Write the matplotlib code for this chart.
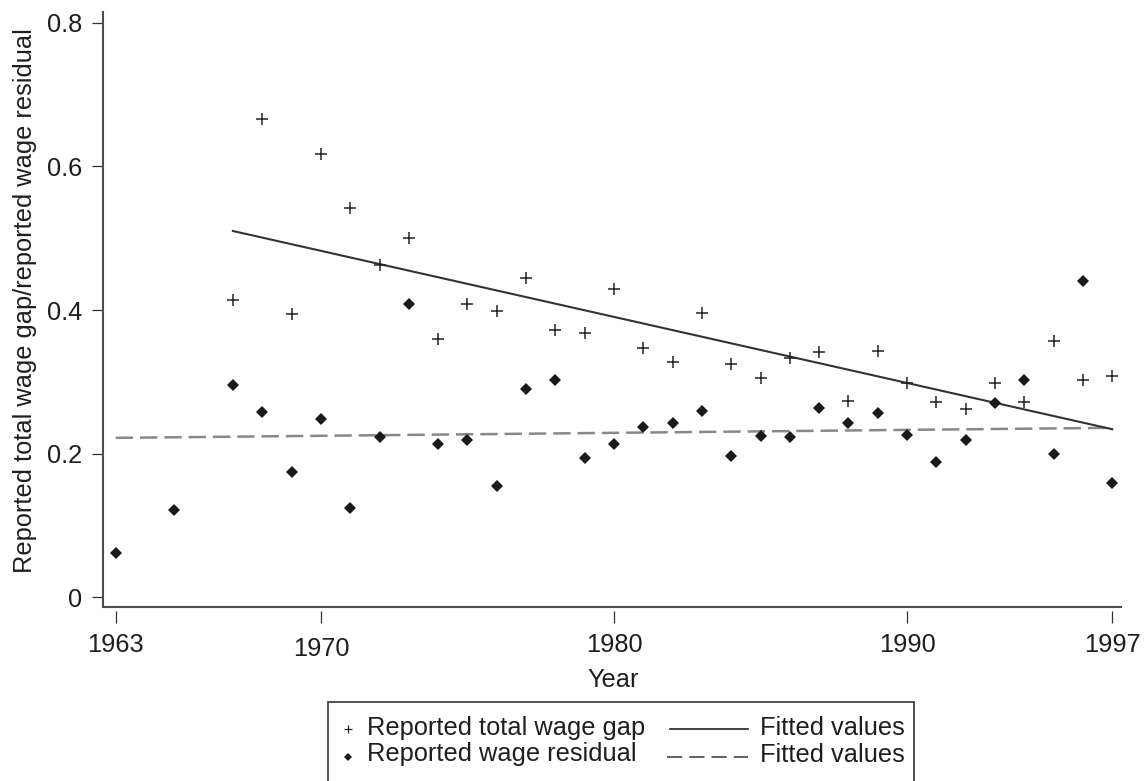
import numpy as np
import matplotlib
matplotlib.use('Agg')
import matplotlib.pyplot as plt
from matplotlib.lines import Line2D
from matplotlib.patches import Rectangle

plt.rcParams['font.family'] = ['Liberation Sans', 'DejaVu Sans']
plt.rcParams['lines.scale_dashes'] = False

# Data
gap_years = list(range(1967, 1998))
gap_values = [0.414, 0.666, 0.395, 0.617, 0.542, 0.462, 0.500, 0.359,
              0.409, 0.399, 0.445, 0.372, 0.368, 0.429, 0.347, 0.327,
              0.396, 0.325, 0.306, 0.333, 0.341, 0.274, 0.343, 0.298,
              0.272, 0.262, 0.299, 0.272, 0.357, 0.303, 0.308]

resid_years = [1963, 1965] + list(range(1967, 1998))
resid_values = [0.062, 0.122,
                0.296, 0.258, 0.174, 0.248, 0.124, 0.223, 0.409, 0.213,
                0.219, 0.155, 0.290, 0.302, 0.194, 0.214, 0.237, 0.243,
                0.259, 0.197, 0.225, 0.223, 0.263, 0.243, 0.257, 0.226,
                0.188, 0.219, 0.271, 0.302, 0.200, 0.440, 0.159]

# fitted values (end points of the two regression lines)
fit_gap_years = [1967, 1997]
fit_gap_values = [0.510, 0.234]
fit_resid_years = [1963, 1997]
fit_resid_values = [0.222, 0.236]

xticks = [1963, 1970, 1980, 1990, 1997]
yticks = [0, 0.2, 0.4, 0.6, 0.8]
ytick_labels = ['0', '0.2', '0.4', '0.6', '0.8']

W, H = 1147, 781
FS = 18.3
TXT = '#1e1e1e'
AXC = '#4d4d4d'


def fx(px):
    return px / W


def fy(py):
    return 1 - py / H


fig = plt.figure(figsize=(W / 100, H / 100), dpi=100)
ax = fig.add_axes([fx(103.3), fy(607.3), (1122.3 - 103.3) / W, (607.3 - 12) / H])

# fitted lines
ax.plot(fit_resid_years, fit_resid_values, color='#888888', lw=1.8,
        dashes=(12.5, 5), zorder=2)
ax.plot(fit_gap_years, fit_gap_values, color='#333333', lw=1.5, zorder=2)

# points
ax.plot(gap_years, gap_values, linestyle='none', marker='+', markersize=8.5,
        markeredgewidth=1.1, color='#222222', zorder=3)
ax.plot(resid_years, resid_values, linestyle='none', marker='D', markersize=6.4,
        color='#1a1a1a', markeredgewidth=0, zorder=3)

ax.set_xlim(1962.577, 1997.341)
ax.set_ylim(-0.0139, 0.8149)

ax.set_xticks(xticks)
ax.set_xticklabels([str(t) for t in xticks])
ax.set_yticks(yticks)
ax.set_yticklabels(ytick_labels)

for s in ['top', 'right']:
    ax.spines[s].set_visible(False)
ax.spines['left'].set_color(AXC)
ax.spines['left'].set_linewidth(1.5)
# x ticks hang detached below the axis line
ax.spines['bottom'].set_position(('outward', 2.4))
ax.spines['bottom'].set_visible(False)
ax.plot([0, 1], [0, 0], transform=ax.transAxes, color=AXC, lw=1.5,
        clip_on=False, solid_capstyle='butt')

ax.tick_params(axis='y', direction='out', length=8, width=0.9, color='#333333',
               pad=7, labelsize=FS, labelcolor=TXT)
ax.tick_params(axis='x', direction='out', length=8.6, width=0.9, color='#333333',
               pad=7.5, labelsize=FS, labelcolor=TXT)
# 1970 label sits a little lower in the original
for lab in ax.get_xticklabels():
    if lab.get_text() == '1970':
        lab.set_y(-0.006)

fig.text(fx(25), fy(301), 'Reported total wage gap/reported wage residual',
         rotation=90, ha='center', va='center', fontsize=FS, color=TXT)
fig.text(fx(613), fy(680), 'Year', ha='center', va='center', fontsize=FS, color=TXT)

# legend drawn by hand (box runs off the bottom edge)
fig.add_artist(Rectangle((fx(328.3), fy(820)), (914.3 - 328.3) / W, (820 - 701.7) / H,
                         transform=fig.transFigure, fill=False, edgecolor='#444444',
                         linewidth=1.3))
fig.add_artist(Line2D([fx(348)], [fy(729)], transform=fig.transFigure, marker='+',
                      markersize=5.5, markeredgewidth=0.9, color='#222222'))
fig.add_artist(Line2D([fx(348)], [fy(756.5)], transform=fig.transFigure, marker='D',
                      markersize=4.5, markeredgewidth=0, color='#1a1a1a'))
fig.text(fx(366.7), fy(735), 'Reported total wage gap', ha='left', va='baseline',
         fontsize=FS, color=TXT)
fig.text(fx(366.7), fy(761.5), 'Reported wage residual', ha='left', va='baseline',
         fontsize=FS, color=TXT)
fig.add_artist(Line2D([fx(670), fx(748)], [fy(729.3), fy(729.3)],
                      transform=fig.transFigure, color='#333333', lw=1.3))
fig.add_artist(Line2D([fx(666.7), fx(748)], [fy(756.7), fy(756.7)],
                      transform=fig.transFigure, color='#555555', lw=1.3,
                      dashes=(11, 5)))
fig.text(fx(760), fy(735), 'Fitted values', ha='left', va='baseline',
         fontsize=FS, color=TXT)
fig.text(fx(760), fy(761.5), 'Fitted values', ha='left', va='baseline',
         fontsize=FS, color=TXT)

fig.savefig('out.png', dpi=100, facecolor='white')
